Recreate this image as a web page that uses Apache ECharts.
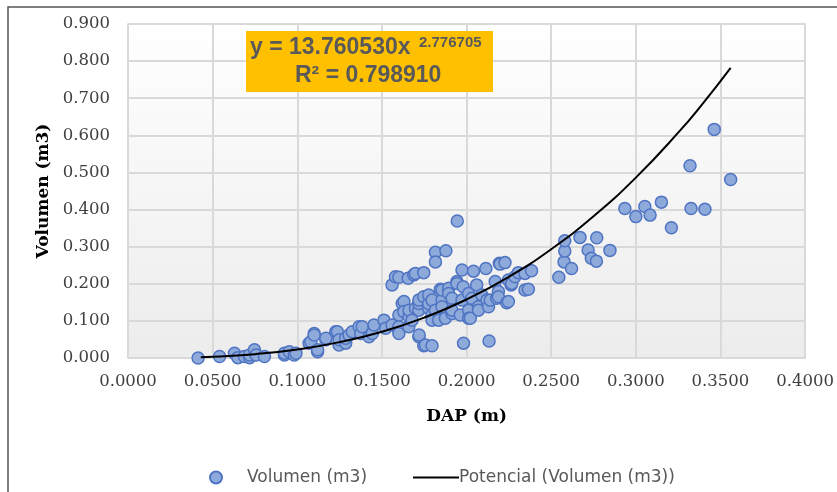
<!DOCTYPE html>
<html>
<head>
<meta charset="utf-8">
<script src="https://cdn.jsdelivr.net/npm/echarts@6/dist/echarts.min.js"></script>
<style>html,body{margin:0;padding:0;background:#fff;}#c{width:837px;height:492px;}</style>
</head>
<body>
<div id="c"></div>
<script>
// DAP (m) values of observed trees
var dap = [
0.0414,0.0541,0.0629,0.0649,0.0688,0.0718,0.0718,0.0747,0.0757,0.0806,
0.0924,0.0924,0.0953,0.0982,0.0992,0.107,0.108,0.110,0.110,0.112,
0.112,0.1169,0.1169,0.1227,0.1237,0.1247,0.1247,0.1286,0.1286,0.1306,
0.1325,0.1365,0.1375,0.1384,0.1424,0.1443,0.1453,0.1512,0.1522,0.156,
0.156,0.158,0.160,0.160,0.160,0.160,0.160,0.162,0.163,0.163,
0.1655,0.1659,0.166,0.166,0.1678,0.1688,0.1698,0.1698,0.1718,0.1718,
0.1718,0.1718,0.172,0.1747,0.1747,0.1747,0.1757,0.1776,0.1776,0.1776,
0.1796,0.1796,0.1796,0.1796,0.1816,0.1816,0.1816,0.1835,0.1845,0.1855,
0.1855,0.1855,0.1875,0.1878,0.1894,0.1894,0.1914,0.1914,0.1914,0.1914,
0.1943,0.1943,0.1945,0.1963,0.1973,0.1973,0.198,0.1982,0.2012,0.2012,
0.2012,0.2022,0.2031,0.2041,0.206,0.207,0.207,0.209,0.2114,0.212,
0.213,0.2133,0.214,0.2169,0.2178,0.2188,0.2188,0.2194,0.2198,0.2227,
0.2237,0.2247,0.2247,0.2263,0.2267,0.2286,0.2306,0.2345,0.2345,0.2365,
0.2384,0.2545,0.2576,0.258,0.258,0.262,0.267,0.2718,0.2737,0.2767,
0.2769,0.2847,0.2935,0.300,0.3053,0.3084,0.3151,0.321,0.332,0.3326,
0.3408,0.3463,0.356
];
// Volumen (m3) values of observed trees
var vol = [
0.000,0.004,0.013,0.001,0.004,0.001,0.008,0.022,0.008,0.004,
0.008,0.013,0.017,0.008,0.013,0.040,0.044,0.066,0.062,0.017,
0.022,0.049,0.053,0.071,0.071,0.035,0.049,0.040,0.053,0.062,
0.071,0.084,0.066,0.084,0.057,0.066,0.089,0.102,0.080,0.089,
0.197,0.219,0.2175,0.075,0.084,0.066,0.116,0.147,0.152,0.125,
0.215,0.084,0.111,0.129,0.102,0.224,0.228,0.134,0.057,0.129,
0.147,0.156,0.062,0.230,0.165,0.033,0.035,0.134,0.147,0.170,
0.033,0.116,0.102,0.156,0.129,0.285,0.259,0.102,0.185,0.156,
0.183,0.138,0.107,0.289,0.188,0.174,0.161,0.125,0.120,0.129,
0.206,0.201,0.369,0.116,0.237,0.156,0.192,0.040,0.129,0.107,
0.174,0.107,0.161,0.234,0.197,0.138,0.129,0.170,0.241,0.156,
0.138,0.046,0.156,0.206,0.161,0.179,0.165,0.255,0.253,0.257,
0.149,0.152,0.210,0.197,0.201,0.219,0.230,0.228,0.183,0.185,
0.235,0.2175,0.259,0.288,0.316,0.241,0.325,0.291,0.269,0.261,
0.324,0.290,0.403,0.381,0.408,0.385,0.420,0.351,0.518,0.403,
0.401,0.616,0.481
];
// Potential trendline
var trendDap = [0.043,0.05,0.075,0.1,0.125,0.15,0.175,0.2,0.225,0.25,0.275,0.3,0.325,0.34,0.356];
var trendVol = [0.0022,0.0034,0.0104,0.0230,0.0428,0.0709,0.1088,0.1577,0.2187,0.2931,0.3818,0.4861,0.6071,0.6883,0.7819];

var seriesNames = ['Volumen (m3)', 'Potencial (Volumen (m3))'];
var equationText = 'y = 13.760530x';
var exponentText = '2.776705';
var r2Text = 'R² = 0.798910';

var scatterData = dap.map(function(d, i){ return [d, vol[i]]; });
var trendData = trendDap.map(function(d, i){ return [d, trendVol[i]]; });

var chart = echarts.init(document.getElementById('c'), null, {renderer:'canvas'});
var serif = 'DejaVu Serif';
chart.setOption({
  animation: false,
  backgroundColor: '#ffffff',
  grid: {
    left: 128, right: 29, top: 24, bottom: 134,
    show: true,
    borderColor: '#d9d9d9', borderWidth: 1.5,
    backgroundColor: new echarts.graphic.LinearGradient(0,0,0,1,[
      {offset:0,color:'#ffffff'},{offset:1,color:'#ececec'}
    ])
  },
  xAxis: {
    type: 'value', min: 0, max: 0.4, interval: 0.05,
    name: 'DAP (m)', nameLocation: 'middle', nameGap: 50,
    nameTextStyle: {fontFamily: serif, fontWeight: 'bold', fontSize: 17, color: '#000'},
    axisLine: {show: false}, axisTick: {show: false},
    splitLine: {show: true, lineStyle: {color: '#d9d9d9', width: 2}},
    axisLabel: {fontFamily: serif, fontSize: 16.5, color: '#404040', margin: 15,
      formatter: function(v){ return v.toFixed(4); }}
  },
  yAxis: {
    type: 'value', min: 0, max: 0.9, interval: 0.1,
    name: 'Volumen (m3)', nameLocation: 'middle', nameGap: 74, nameRotate: 90,
    nameTextStyle: {fontFamily: serif, fontWeight: 'bold', fontSize: 17, color: '#000'},
    axisLine: {show: false}, axisTick: {show: false},
    splitLine: {show: true, lineStyle: {color: '#d9d9d9', width: 2}},
    axisLabel: {fontFamily: serif, fontSize: 16.5, color: '#404040', margin: 18,
      formatter: function(v){ return v.toFixed(3); }}
  },
  legend: [
    {
      data: [{name: seriesNames[0], icon: 'circle'}],
      left: 204, top: 464, itemWidth: 12, itemHeight: 12,
      textStyle: {fontFamily: 'DejaVu Sans', fontSize: 17, color: '#595959', padding: [0,0,0,20]}
    },
    {
      data: [{name: seriesNames[1], icon: 'rect'}],
      left: 408, top: 464, itemWidth: 46, itemHeight: 2, itemGap: 0,
      itemStyle: {color: '#000'},
      textStyle: {fontFamily: 'DejaVu Sans', fontSize: 17, color: '#595959', padding: [0,0,0,-5]}
    }
  ],
  series: [
    {
      name: seriesNames[0], type: 'scatter', data: scatterData,
      symbol: 'circle', symbolSize: 12,
      itemStyle: {color: '#8eaadb', borderColor: '#4f74c2', borderWidth: 1.5, opacity: 1}
    },
    {
      name: seriesNames[1], type: 'line', data: trendData, smooth: true,
      showSymbol: false, symbol: 'none',
      lineStyle: {color: '#000', width: 2},
      itemStyle: {color: '#000'}, z: 5
    }
  ],
  graphic: [
    {type: 'polyline', shape: {points: [[8,492],[8,7],[837,7]]}, style: {stroke: '#555', lineWidth: 1.5, fill: null}, silent: true},
    {type: 'rect', shape: {x: 246, y: 31, width: 247, height: 61}, style: {fill: '#ffc000'}, z: 10},
    {type: 'text', left: 250, top: 36, z: 11, style: {text: equationText, font: 'bold 23px "Liberation Sans"', fill: '#595959'}},
    {type: 'text', left: 419, top: 35, z: 11, style: {text: exponentText, font: 'bold 15px "Liberation Sans"', fill: '#595959'}},
    {type: 'text', left: 295, top: 64, z: 11, style: {text: r2Text, font: 'bold 23px "Liberation Sans"', fill: '#595959'}}
  ]
});
</script>
</body>
</html>
